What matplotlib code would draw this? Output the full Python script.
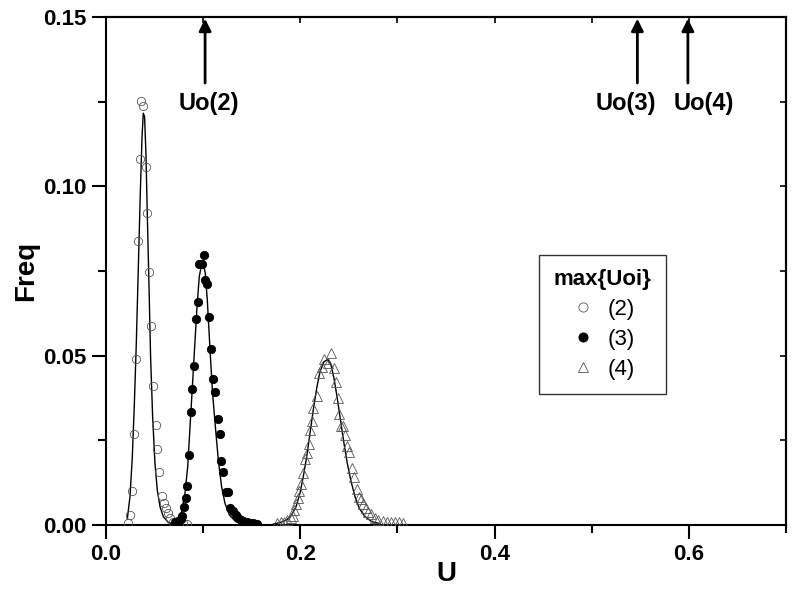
import matplotlib
matplotlib.use("Agg")
import matplotlib.pyplot as plt
from matplotlib.ticker import MultipleLocator, FormatStrFormatter

plt.rcParams['font.family'] = ['Liberation Sans', 'DejaVu Sans']

# Data points (measured) -- series (2), open circles
u2 = [0.0223, 0.0247, 0.0271, 0.0288, 0.0306, 0.0325, 0.0346, 0.0360, 0.0384, 0.0408,
      0.0425, 0.0446, 0.0463, 0.0480, 0.0511, 0.0528, 0.0549, 0.0573, 0.0593, 0.0614,
      0.0635, 0.0659, 0.0693, 0.0796, 0.0830]
f2 = [0.0005, 0.0030, 0.0101, 0.0268, 0.0489, 0.0839, 0.1080, 0.1252, 0.1238, 0.1056,
      0.0920, 0.0746, 0.0589, 0.0411, 0.0294, 0.0224, 0.0156, 0.0086, 0.0066, 0.0049,
      0.0035, 0.0020, 0.0010, 0.0005, 0.0003]

# series (3), filled circles
u3 = [0.0710, 0.0745, 0.0769, 0.0786, 0.0806, 0.0824, 0.0830, 0.0851, 0.0872, 0.0889,
      0.0903, 0.0926, 0.0950, 0.0960, 0.0985, 0.1009, 0.1022, 0.1043, 0.1064, 0.1081,
      0.1105, 0.1126, 0.1150, 0.1170, 0.1184, 0.1201, 0.1235, 0.1252, 0.1277, 0.1304,
      0.1334, 0.1355, 0.1387, 0.1413, 0.1448, 0.1482, 0.1516, 0.1551]
f3 = [0.0010, 0.0012, 0.0017, 0.0027, 0.0054, 0.0081, 0.0115, 0.0207, 0.0333, 0.0401,
      0.0470, 0.0607, 0.0659, 0.0771, 0.0771, 0.0798, 0.0723, 0.0711, 0.0613, 0.0519,
      0.0430, 0.0394, 0.0313, 0.0269, 0.0189, 0.0157, 0.0098, 0.0097, 0.0049, 0.0041,
      0.0030, 0.0022, 0.0015, 0.0012, 0.0009, 0.0007, 0.0005, 0.0004]

# series (4), open triangles
u4 = [0.1764, 0.1798, 0.1832, 0.1866, 0.1901, 0.1929, 0.1939, 0.1956, 0.1973, 0.1990,
      0.2007, 0.2025, 0.2049, 0.2066, 0.2087, 0.2100, 0.2118, 0.2135, 0.2169, 0.2193,
      0.2220, 0.2248, 0.2289, 0.2316, 0.2347, 0.2368, 0.2385, 0.2402, 0.2419, 0.2443,
      0.2460, 0.2484, 0.2505, 0.2529, 0.2553, 0.2581, 0.2605, 0.2625, 0.2649, 0.2673,
      0.2700, 0.2728, 0.2769, 0.2803, 0.2848, 0.2889, 0.2934, 0.2975, 0.3019, 0.3061]
f4 = [0.0007, 0.0008, 0.0010, 0.0015, 0.0020, 0.0027, 0.0044, 0.0061, 0.0081, 0.0101,
      0.0120, 0.0154, 0.0195, 0.0212, 0.0238, 0.0281, 0.0308, 0.0345, 0.0381, 0.0448,
      0.0467, 0.0489, 0.0478, 0.0507, 0.0463, 0.0423, 0.0374, 0.0328, 0.0292, 0.0292,
      0.0266, 0.0233, 0.0215, 0.0169, 0.0141, 0.0106, 0.0084, 0.0077, 0.0062, 0.0049,
      0.0039, 0.0032, 0.0020, 0.0015, 0.0012, 0.0010, 0.0009, 0.0008, 0.0008, 0.0007]

# fitted curves
cu2 = [0.0219, 0.0247, 0.0271, 0.0292, 0.0312, 0.0333, 0.0354, 0.0371, 0.0384, 0.0397,
       0.0411, 0.0425, 0.0442, 0.0459, 0.0480, 0.0504, 0.0528, 0.0556, 0.0590, 0.0642,
       0.0720, 0.0800]
cf2 = [0.0017, 0.0084, 0.0202, 0.0359, 0.0537, 0.0763, 0.0989, 0.1147, 0.1216, 0.1206,
       0.1098, 0.0920, 0.0714, 0.0497, 0.0320, 0.0182, 0.0103, 0.0054, 0.0025, 0.0007,
       0.0001, 0.0000]

cu3 = [0.0693, 0.0745, 0.0779, 0.0813, 0.0841, 0.0865, 0.0889, 0.0913, 0.0937, 0.0960,
       0.0985, 0.1001, 0.1022, 0.1043, 0.1071, 0.1097, 0.1126, 0.1156, 0.1190, 0.1225,
       0.1270, 0.1328, 0.1413]
cf3 = [0.0005, 0.0015, 0.0039, 0.0094, 0.0172, 0.0290, 0.0408, 0.0527, 0.0645, 0.0733,
       0.0771, 0.0773, 0.0743, 0.0664, 0.0517, 0.0389, 0.0290, 0.0192, 0.0113, 0.0064,
       0.0030, 0.0012, 0.0004]

cu4 = [0.1723, 0.1791, 0.1860, 0.1911, 0.1956, 0.1997, 0.2031, 0.2066, 0.2100, 0.2134,
       0.2169, 0.2203, 0.2244, 0.2282, 0.2313, 0.2347, 0.2381, 0.2416, 0.2450, 0.2484,
       0.2519, 0.2563, 0.2608, 0.2666, 0.2735, 0.2821]
cf4 = [0.0003, 0.0007, 0.0015, 0.0030, 0.0054, 0.0094, 0.0143, 0.0202, 0.0271, 0.0340,
       0.0404, 0.0453, 0.0482, 0.0489, 0.0476, 0.0433, 0.0374, 0.0305, 0.0241, 0.0182,
       0.0133, 0.0084, 0.0049, 0.0025, 0.0010, 0.0004]

# arrows marking Uo
uo_pos = [0.102, 0.547, 0.599]
uo_text_x = [0.106, 0.535, 0.615]
uo_labels = ['Uo(2)', 'Uo(3)', 'Uo(4)']

legend_labels = ['(2)', '(3)', '(4)']

fig = plt.figure(figsize=(7.94, 5.93), dpi=100)
ax = fig.add_axes([106 / 794, 68 / 593, 680 / 794, 508 / 593])

# curves
for cu, cf in [(cu2, cf2), (cu3, cf3), (cu4, cf4)]:
    ax.plot(cu, cf, color='black', lw=1.0, zorder=2)

# markers
ax.plot(u2, f2, linestyle='none', marker='o', markersize=6, markerfacecolor='none',
        markeredgecolor='#555555', markeredgewidth=0.6, label=legend_labels[0], zorder=3)
ax.plot(u3, f3, linestyle='none', marker='o', markersize=6, markerfacecolor='black',
        markeredgecolor='black', markeredgewidth=0.6, label=legend_labels[1], zorder=3)
ax.plot(u4, f4, linestyle='none', marker='^', markersize=6.5, markerfacecolor='none',
        markeredgecolor='#555555', markeredgewidth=0.6, label=legend_labels[2], zorder=3)

ax.set_xlim(0, 0.7)
ax.set_ylim(0, 0.15)

ax.xaxis.set_major_locator(MultipleLocator(0.2))
ax.xaxis.set_minor_locator(MultipleLocator(0.1))
ax.yaxis.set_major_locator(MultipleLocator(0.05))
ax.yaxis.set_minor_locator(MultipleLocator(0.025))
ax.xaxis.set_major_formatter(FormatStrFormatter('%.1f'))
ax.yaxis.set_major_formatter(FormatStrFormatter('%.2f'))

ax.tick_params(which='major', direction='out', length=10, width=1.5, labelsize=16, pad=4)
ax.tick_params(which='minor', direction='out', length=6, width=1.5)
for lab in ax.get_xticklabels() + ax.get_yticklabels():
    lab.set_fontweight('bold')

# short inward ticks on top and right
axt = ax.secondary_xaxis('top')
axt.xaxis.set_major_locator(MultipleLocator(0.2))
axt.xaxis.set_minor_locator(MultipleLocator(0.1))
axt.tick_params(which='both', direction='in', length=4, width=1.2, labeltop=False)
axr = ax.secondary_yaxis('right')
axr.yaxis.set_major_locator(MultipleLocator(0.05))
axr.yaxis.set_minor_locator(MultipleLocator(0.025))
axr.tick_params(which='both', direction='in', length=4, width=1.2, labelright=False)

for sp in list(ax.spines.values()) + [axt.spines['top'], axr.spines['right']]:
    sp.set_linewidth(1.5)

ax.set_xlabel('U', fontsize=20, fontweight='bold', labelpad=-3)
ax.set_ylabel('Freq', fontsize=20, fontweight='bold', labelpad=3)

# Uo arrows
for up, tx, lab in zip(uo_pos, uo_text_x, uo_labels):
    ax.annotate('', xy=(up, 0.1495), xytext=(up, 0.1305),
                arrowprops=dict(arrowstyle='-|>', color='black', lw=2, mutation_scale=18,
                                shrinkA=0, shrinkB=0), zorder=4)
    ax.text(tx, 0.1245, lab, fontsize=17, fontweight='bold', ha='center', va='center')

leg = ax.legend(title='max{Uoi}', loc='upper left', bbox_to_anchor=(0.637, 0.532),
                borderaxespad=0, fontsize=16, title_fontproperties={'size': 16, 'weight': 'bold'},
                frameon=True, fancybox=False, edgecolor='black', borderpad=0.65,
                handletextpad=0.5, labelspacing=0.4, markerscale=1.1, handlelength=1.2)
leg.get_frame().set_linewidth(1.0)

fig.savefig('out.png', dpi=100)
